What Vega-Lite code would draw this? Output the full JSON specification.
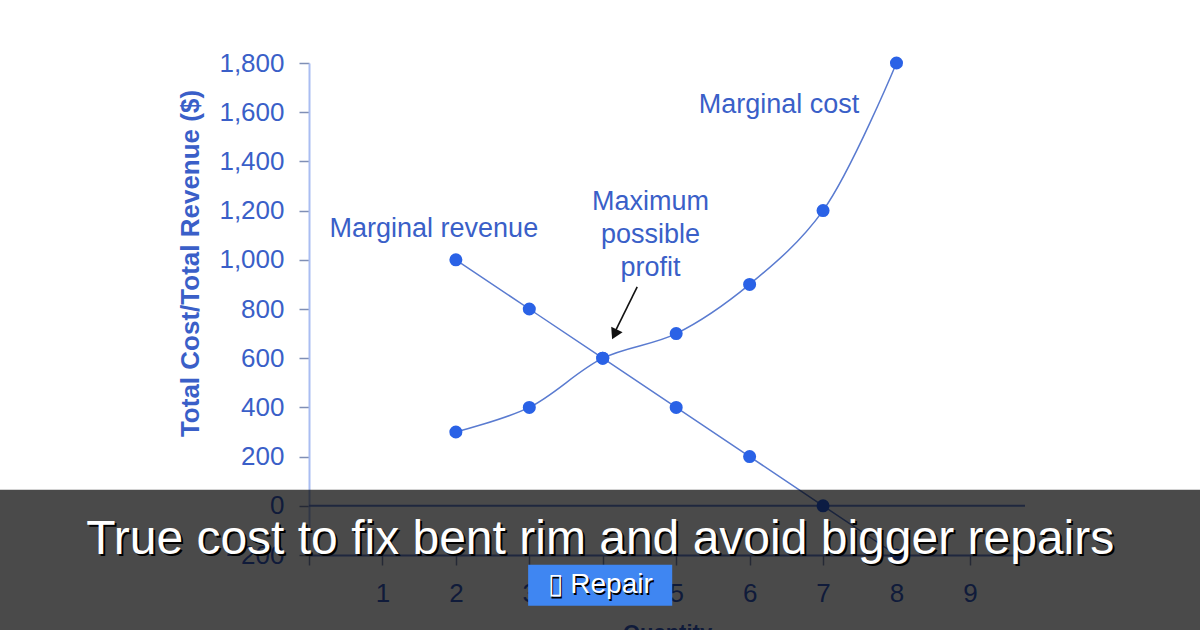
{
  "$schema": "https://vega.github.io/schema/vega-lite/v6.json",
  "width": 716,
  "height": 492,
  "autosize": "none",
  "padding": {"left": 309, "top": 63, "right": 175, "bottom": 75},
  "background": "white",
  "config": {"view": {"stroke": null}, "font": "Liberation Sans"},
  "datasets": {
    "curves": [
      {"x": 2, "y": 1000, "series": "MR"},
      {"x": 3, "y": 800, "series": "MR"},
      {"x": 4, "y": 600, "series": "MR"},
      {"x": 5, "y": 400, "series": "MR"},
      {"x": 6, "y": 200, "series": "MR"},
      {"x": 7, "y": 0, "series": "MR"},
      {"x": 8, "y": -200, "series": "MR"},
      {"x": 2, "y": 300, "series": "MC"},
      {"x": 3, "y": 400, "series": "MC"},
      {"x": 4, "y": 600, "series": "MC"},
      {"x": 5, "y": 700, "series": "MC"},
      {"x": 6, "y": 900, "series": "MC"},
      {"x": 7, "y": 1200, "series": "MC"},
      {"x": 8, "y": 1800, "series": "MC"}
    ],
    "notes": [
      {"x": 1.7, "y": 1126, "text": "Marginal revenue"},
      {"x": 4.65, "y": 1236, "text": "Maximum\npossible\nprofit"},
      {"x": 6.4, "y": 1630, "text": "Marginal cost"}
    ],
    "arrow": [{"x": 4.469, "y": 890, "x2": 4.175, "y2": 712}],
    "head": [{"x": 4.16, "y": 697}],
    "band": [{"x": -4.3, "x2": 12.3, "y": 65, "y2": -520}],
    "banner": [{"x": 3.965, "y": -195, "text": "True cost to fix bent rim and avoid bigger repairs"}],
    "button": [{"x": 2.984, "x2": 4.946, "y": -240, "y2": -406.5}],
    "buttonText": [{"x": 3.965, "y": -323, "text": "▯ Repair"}]
  },
  "layer": [
    {
      "data": {"name": "curves"},
      "transform": [{"filter": "datum.series == 'MR'"}],
      "mark": {"type": "line", "color": "#5a7bd0", "strokeWidth": 1.5, "interpolate": "linear"},
      "encoding": {
        "x": {
          "field": "x", "type": "quantitative",
          "scale": {"domain": [0, 9.75], "nice": false, "zero": false},
          "axis": {
            "values": [0, 1, 2, 3, 4, 5, 6, 7, 8, 9],
            "format": "d",
            "labelExpr": "datum.value == 0 ? '' : datum.label",
            "title": "Quantity",
            "titleFontSize": 22, "titleFontWeight": "bold", "titleColor": "#3a5fc8", "titlePadding": 16,
            "labelFontSize": 26, "labelColor": "#3a5fc8", "labelPadding": 15,
            "tickSize": 10, "tickColor": "#7f8fb5", "tickWidth": 1.5,
            "domainColor": "#6a86d6", "domainWidth": 2, "grid": false
          }
        },
        "y": {
          "field": "y", "type": "quantitative",
          "scale": {"domain": [-200, 1800], "nice": false, "zero": false},
          "axis": {
            "values": [-200, 0, 200, 400, 600, 800, 1000, 1200, 1400, 1600, 1800],
            "format": ",d",
            "title": "Total Cost/Total Revenue ($)",
            "titleFontSize": 26, "titleFontWeight": "bold", "titleColor": "#3a5fc8",
            "titleX": -119, "titleY": 200, "titleAlign": "center", "titleBaseline": "middle", "titleAngle": -90,
            "labelFontSize": 26, "labelColor": "#3a5fc8", "labelPadding": 15,
            "tickSize": 10, "tickColor": "#7f8fb5", "tickWidth": 1.5,
            "domainColor": "#a9bdf2", "domainWidth": 2, "grid": false
          }
        }
      }
    },
    {
      "data": {"name": "curves"},
      "transform": [{"filter": "datum.series == 'MC'"}],
      "mark": {"type": "line", "color": "#5a7bd0", "strokeWidth": 1.5, "interpolate": "catmull-rom"},
      "encoding": {
        "x": {"field": "x", "type": "quantitative"},
        "y": {"field": "y", "type": "quantitative"}
      }
    },
    {
      "data": {"values": [{"y": 0}]},
      "mark": {"type": "rule", "color": "#6a86d6", "strokeWidth": 2},
      "encoding": {"y": {"field": "y", "type": "quantitative"}}
    },
    {
      "data": {"name": "curves"},
      "mark": {"type": "point", "filled": true, "size": 170, "color": "#2a62e6", "opacity": 1},
      "encoding": {
        "x": {"field": "x", "type": "quantitative"},
        "y": {"field": "y", "type": "quantitative"}
      }
    },
    {
      "data": {"name": "notes"},
      "mark": {"type": "text", "align": "center", "baseline": "middle", "fontSize": 27, "color": "#3a5fc8", "lineBreak": "\n", "lineHeight": 33},
      "encoding": {
        "x": {"field": "x", "type": "quantitative"},
        "y": {"field": "y", "type": "quantitative"},
        "text": {"field": "text"}
      }
    },
    {
      "data": {"name": "arrow"},
      "mark": {"type": "rule", "color": "#111111", "strokeWidth": 1.6},
      "encoding": {
        "x": {"field": "x", "type": "quantitative"},
        "y": {"field": "y", "type": "quantitative"},
        "x2": {"field": "x2"},
        "y2": {"field": "y2"}
      }
    },
    {
      "data": {"name": "head"},
      "mark": {"type": "point", "shape": "triangle-down", "filled": true, "size": 160, "color": "#111111", "opacity": 1, "angle": 26},
      "encoding": {
        "x": {"field": "x", "type": "quantitative"},
        "y": {"field": "y", "type": "quantitative"}
      }
    },
    {
      "data": {"name": "band"},
      "mark": {"type": "rect", "color": "#000000", "opacity": 0.71, "clip": false},
      "encoding": {
        "x": {"field": "x", "type": "quantitative"},
        "x2": {"field": "x2"},
        "y": {"field": "y", "type": "quantitative"},
        "y2": {"field": "y2"}
      }
    },
    {
      "data": {"name": "banner"},
      "mark": {"type": "text", "align": "center", "baseline": "alphabetic", "fontSize": 48, "color": "#000000", "dx": 2, "dy": 2},
      "encoding": {
        "x": {"field": "x", "type": "quantitative"},
        "y": {"field": "y", "type": "quantitative"},
        "text": {"field": "text"}
      }
    },
    {
      "data": {"name": "banner"},
      "mark": {"type": "text", "align": "center", "baseline": "alphabetic", "fontSize": 48, "color": "#ffffff"},
      "encoding": {
        "x": {"field": "x", "type": "quantitative"},
        "y": {"field": "y", "type": "quantitative"},
        "text": {"field": "text"}
      }
    },
    {
      "data": {"name": "button"},
      "mark": {"type": "rect", "color": "#3f86f2", "opacity": 1},
      "encoding": {
        "x": {"field": "x", "type": "quantitative"},
        "x2": {"field": "x2"},
        "y": {"field": "y", "type": "quantitative"},
        "y2": {"field": "y2"}
      }
    },
    {
      "data": {"name": "buttonText"},
      "mark": {"type": "text", "align": "center", "baseline": "middle", "fontSize": 28, "color": "#000000", "dx": 1.5, "dy": 1.5},
      "encoding": {
        "x": {"field": "x", "type": "quantitative"},
        "y": {"field": "y", "type": "quantitative"},
        "text": {"field": "text"}
      }
    },
    {
      "data": {"name": "buttonText"},
      "mark": {"type": "text", "align": "center", "baseline": "middle", "fontSize": 28, "color": "#ffffff"},
      "encoding": {
        "x": {"field": "x", "type": "quantitative"},
        "y": {"field": "y", "type": "quantitative"},
        "text": {"field": "text"}
      }
    }
  ]
}
